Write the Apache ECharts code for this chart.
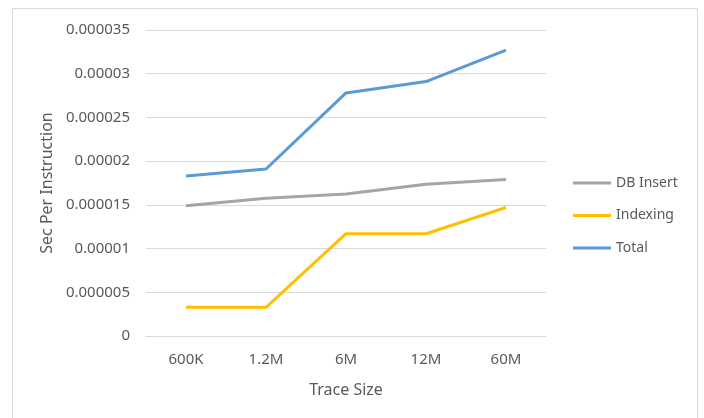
<!DOCTYPE html>
<html>
<head>
<meta charset="utf-8">
<script src="https://cdn.jsdelivr.net/npm/echarts@6/dist/echarts.min.js"></script>
<style>
  html, body { margin: 0; padding: 0; background: #fff; }
  #main { width: 704px; height: 418px; }
</style>
</head>
<body>
<div id="main"></div>
<script>
// data
var categories = ['600K', '1.2M', '6M', '12M', '60M'];
var dbInsert = [0.0000149, 0.00001575, 0.00001625, 0.00001735, 0.0000179];
var indexing = [0.00000328, 0.00000328, 0.0000117, 0.0000117, 0.0000147];
var total = [0.0000183, 0.0000191, 0.0000278, 0.0000291, 0.0000327];
var yMax = 0.000035;
var yStep = 0.000005;

var myChart = echarts.init(document.getElementById('main'));
var font = 'Noto Sans';

var option = {
  animation: false,
  textStyle: { fontFamily: font },
  graphic: [{
    type: 'rect',
    shape: { x: 12.5, y: 8.5, width: 685, height: 420 },
    style: { fill: 'none', stroke: '#d9d9d9', lineWidth: 1 }
  }],
  grid: { left: 146, right: 158, top: 30, bottom: 82 },
  legend: {
    orient: 'vertical',
    left: 573,
    top: 174,
    padding: 0,
    icon: 'rect',
    itemWidth: 38,
    itemHeight: 3,
    itemGap: 14.5,
    textStyle: { color: '#595959', fontSize: 14, lineHeight: 18, fontFamily: font },
    data: ['DB Insert', 'Indexing', 'Total']
  },
  xAxis: {
    type: 'category',
    data: categories,
    name: 'Trace Size',
    nameLocation: 'middle',
    nameGap: 46,
    nameTextStyle: { color: '#595959', fontSize: 16 },
    axisLine: { lineStyle: { color: '#d9d9d9' } },
    axisTick: { show: false },
    axisLabel: { color: '#595959', fontSize: 15, margin: 16 }
  },
  yAxis: {
    type: 'value',
    min: 0,
    max: yMax,
    interval: yStep,
    name: 'Sec Per Instruction',
    nameLocation: 'middle',
    nameGap: 88,
    nameTextStyle: { color: '#595959', fontSize: 16 },
    axisLine: { show: false },
    axisTick: { show: false },
    splitLine: { lineStyle: { color: '#d9d9d9' } },
    axisLabel: {
      color: '#595959', fontSize: 15, margin: 16,
      formatter: function (v) { return parseFloat(v.toFixed(6)).toString(); }
    }
  },
  series: [
    { name: 'DB Insert', type: 'line', data: dbInsert, showSymbol: false,
      itemStyle: { color: '#a5a5a5' }, lineStyle: { width: 3, color: '#a5a5a5' } },
    { name: 'Indexing', type: 'line', data: indexing, showSymbol: false,
      itemStyle: { color: '#ffc000' }, lineStyle: { width: 3, color: '#ffc000' } },
    { name: 'Total', type: 'line', data: total, showSymbol: false,
      itemStyle: { color: '#5b9bd5' }, lineStyle: { width: 3, color: '#5b9bd5' } }
  ]
};

myChart.setOption(option);
</script>
</body>
</html>
